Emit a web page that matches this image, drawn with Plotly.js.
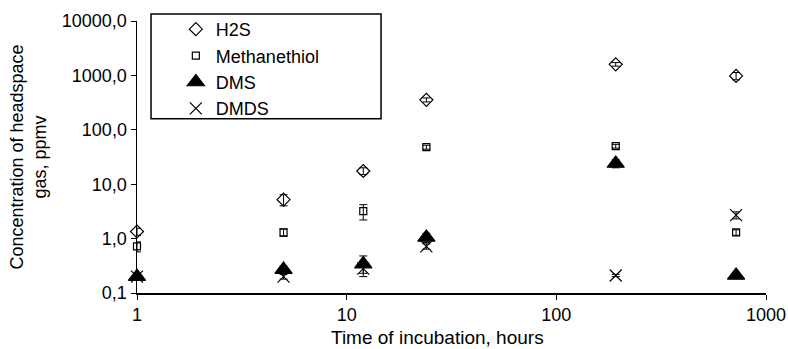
<!DOCTYPE html>
<html>
<head>
<meta charset="utf-8">
<script src="https://cdn.plot.ly/plotly-3.0.1.min.js"></script>
<style>html,body{margin:0;padding:0;background:#fff;}#chart{width:788px;height:349px;}</style>
</head>
<body>
<div id="chart"></div>
<script>
const hours = [1, 5, 12, 24, 192, 720];

const h2s = [1.35, 5.2, 17.5, 355, 1600, 980];
const h2sErr = [0.2, 1.2, 2.5, 30, 120, 150];

const meSH = [0.72, 1.3, 3.2, 48, 50, 1.3];
const meSHErr = [0.15, 0.2, 1.0, 4, 4, 0.15];

const dms = [0.2, 0.27, 0.34, 1.05, 24, 0.21];
const dmsErr = [0.02, 0.04, 0.14, 0.2, 4, 0.01];

const dmds = [0.2, 0.2, 0.28, 0.72, 0.21, 2.7];
const dmdsErr = [0.02, 0.02, 0.05, 0.08, 0.01, 0.4];

const seriesNames = ["H2S", "Methanethiol", "DMS", "DMDS"];
const yTicks = [0.1, 1, 10, 100, 1000, 10000];
const xTicks = [1, 10, 100, 1000];
const xTitle = "Time of incubation, hours";
const yTitle = "Concentration of headspace<br>gas, ppmv";

function tr(name, y, err, symbol, size) {
  return {
    type: "scatter", mode: "markers", name: name,
    x: hours, y: y, cliponaxis: false,
    error_y: {type: "data", array: err, visible: true, color: "#000", thickness: 1, width: 4},
    marker: {symbol: symbol, size: size, color: "#000", line: {color: "#000", width: 1.2}}
  };
}

const data = [
  tr(seriesNames[0], h2s, h2sErr, "diamond-open", 10),
  tr(seriesNames[1], meSH, meSHErr, "square-open", 7),
  tr(seriesNames[2], dms, dmsErr, "triangle-up", 15),
  tr(seriesNames[3], dmds, dmdsErr, "x-thin-open", 12)
];

const font = {family: "Liberation Sans, Arial, sans-serif", color: "#000", size: 17};

const layout = {
  width: 788, height: 349,
  margin: {l: 137, r: 22, t: 20, b: 56},
  paper_bgcolor: "#fff", plot_bgcolor: "#fff",
  separators: ",.",
  font: font,
  showlegend: true,
  xaxis: {
    type: "log", range: [0, 3],
    tickvals: xTicks, ticktext: xTicks.map(String),
    showgrid: false, zeroline: false,
    showline: true, linecolor: "#000", linewidth: 1.5,
    ticks: "outside", ticklen: 5, tickcolor: "#000",
    tickfont: {size: 18}
  },
  yaxis: {
    type: "log", range: [-1, 4],
    tickvals: yTicks, tickformat: ".1f",
    showgrid: false, zeroline: false,
    showline: true, linecolor: "#000", linewidth: 1.5,
    ticks: "outside", ticklen: 5, tickcolor: "#000",
    tickfont: {size: 18},
    title: {text: yTitle, font: {size: 18}, standoff: 10}
  },
  annotations: [{
    text: xTitle, xref: "paper", yref: "paper",
    x: 0.477, y: -0.163, xanchor: "center", yanchor: "middle",
    showarrow: false, font: {size: 19}
  }],
  shapes: [{
    type: "rect", xref: "paper", yref: "paper",
    x0: 0.0223, x1: 0.388, y0: 0.641, y1: 1.026,
    line: {color: "#000", width: 1.5}, fillcolor: "#fff", layer: "above"
  }],
  legend: {
    x: 0.022, y: 1.033, xanchor: "left", yanchor: "top",
    bgcolor: "rgba(0,0,0,0)", borderwidth: 0,
    font: {size: 18},
    indentation: 25,
    tracegroupgap: 0
  }
};

Plotly.newPlot("chart", data, layout, {displayModeBar: false, staticPlot: true});
</script>
</body>
</html>
